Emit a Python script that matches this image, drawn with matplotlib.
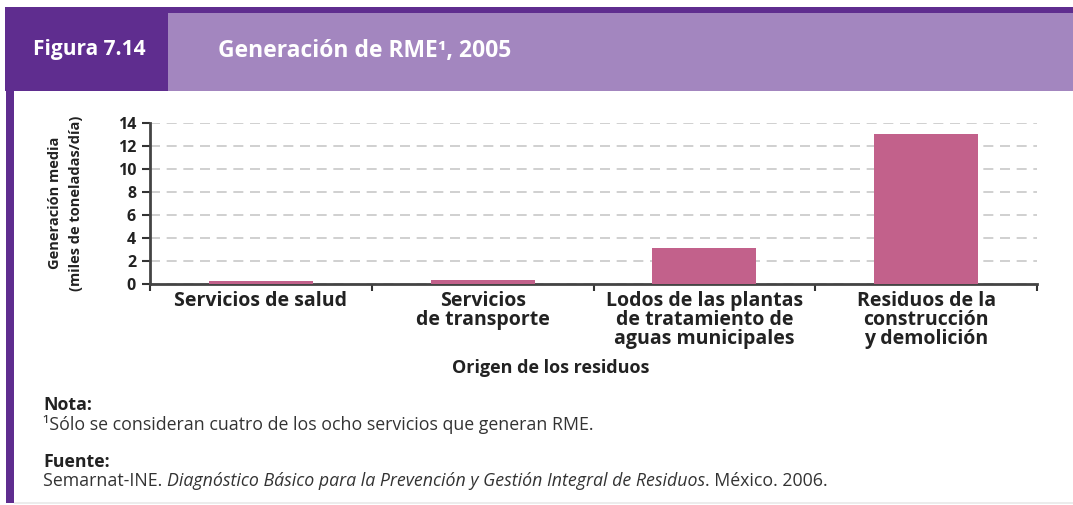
import matplotlib
matplotlib.use("Agg")
import matplotlib.pyplot as plt
from matplotlib.patches import Rectangle

categories = ["Servicios de salud", "Servicios\nde transporte",
              "Lodos de las plantas\nde tratamiento de\naguas municipales",
              "Residuos de la\nconstrucción\ny demolición"]
values = [0.25, 0.35, 3.1, 13.0]
yticks = [0, 2, 4, 6, 8, 10, 12, 14]

FONT = ["Open Sans", "DejaVu Sans"]
plt.rcParams['font.family'] = FONT

W, H = 1073, 505
fig = plt.figure(figsize=(W / 100, H / 100), dpi=100)
fig.patch.set_facecolor("white")

def px_rect(x0, y0, x1, y1, color, z=0):
    fig.patches.append(Rectangle((x0 / W, 1 - y1 / H), (x1 - x0) / W, (y1 - y0) / H,
                                 transform=fig.transFigure, facecolor=color,
                                 edgecolor="none", zorder=z))

dark = "#5f2d8f"
light = "#a386bf"
# header
px_rect(5, 7, 1073, 13, dark)
px_rect(168, 13, 1073, 91, light)
px_rect(5, 7, 168, 91, dark)
# left border
px_rect(6, 91, 14, 503, dark)
# bottom line
px_rect(14, 502, 1073, 504, "#ececec")

fig.text(33 / W, 1 - 49 / H, "Figura 7.14", color="white", fontsize=15,
         fontweight="bold", va="center", ha="left")
fig.text(218 / W, 1 - 51 / H, "Generación de RME¹, 2005", color="white",
         fontsize=16.5, fontweight="bold", va="center", ha="left")

# axes
x0, x1, ytop, ybot = 150, 1037, 123, 284
ax = fig.add_axes([x0 / W, 1 - ybot / H, (x1 - x0) / W, (ybot - ytop) / H])
pos = list(range(len(categories)))
ax.bar(pos, values, width=0.47, color="#c2618b", zorder=3)
ax.set_xlim(-0.5, len(categories) - 0.5)
ax.set_ylim(0, 14)
ax.set_yticks(yticks)
ax.set_yticklabels([str(v) for v in yticks], fontsize=11.5, fontweight="bold",
                   color="#222222")
ax.set_xticks(pos)
ax.set_xticklabels(categories, fontsize=14, fontweight="bold", color="#222222",
                   linespacing=0.92, va="top")
ax.set_xticks([p - 0.5 for p in pos] + [pos[-1] + 0.5], minor=True)
ax.tick_params(axis="x", which="major", length=0, pad=5)
ax.tick_params(axis="x", which="minor", length=5, width=1.5, color="#333333",
               direction="out")
ax.tick_params(axis="y", length=6, width=1.5, color="#333333", pad=4)
for s in ["top", "right"]:
    ax.spines[s].set_visible(False)
for s in ["left", "bottom"]:
    ax.spines[s].set_color("#444444")
    ax.spines[s].set_linewidth(2)
ax.yaxis.grid(True, color="#c8c8c8", linestyle=(0, (6, 4)), linewidth=1.2, zorder=0)
ax.set_axisbelow(True)
ax.set_facecolor("none")

fig.text(55 / W, 1 - 203 / H, "Generación media", rotation=90, fontsize=10.5,
         fontweight="bold", color="#222222", ha="center", va="center")
fig.text(76 / W, 1 - 203 / H, "(miles de toneladas/día)", rotation=90,
         fontsize=10.5, fontweight="bold", color="#222222", ha="center", va="center")
fig.text(551 / W, 1 - 368 / H, "Origen de los residuos", fontsize=13,
         fontweight="bold", color="#222222", ha="center", va="center")

# notes
NS = 12.8
fig.text(43 / W, 1 - 405 / H, "Nota:", fontsize=NS, fontweight="bold",
         color="#222222", ha="left", va="center")
fig.text(43 / W, 1 - 424 / H, "¹Sólo se consideran cuatro de los ocho servicios que generan RME.",
         fontsize=NS, color="#333333", ha="left", va="center")
fig.text(43 / W, 1 - 462 / H, "Fuente:", fontsize=NS, fontweight="bold",
         color="#222222", ha="left", va="center")
t1 = fig.text(43 / W, 1 - 481 / H, "Semarnat-INE. ", fontsize=NS,
              color="#333333", ha="left", va="center")
fig.canvas.draw()
r = fig.canvas.get_renderer()
bb = t1.get_window_extent(r)
t2 = fig.text(bb.x1 / W, 1 - 481 / H,
              "Diagnóstico Básico para la Prevención y Gestión Integral de Residuos",
              fontsize=NS, style="italic", color="#333333", ha="left", va="center")
bb2 = t2.get_window_extent(r)
fig.text(bb2.x1 / W, 1 - 481 / H, ". México. 2006.", fontsize=NS,
         color="#333333", ha="left", va="center")

fig.savefig("out.png", dpi=100)
